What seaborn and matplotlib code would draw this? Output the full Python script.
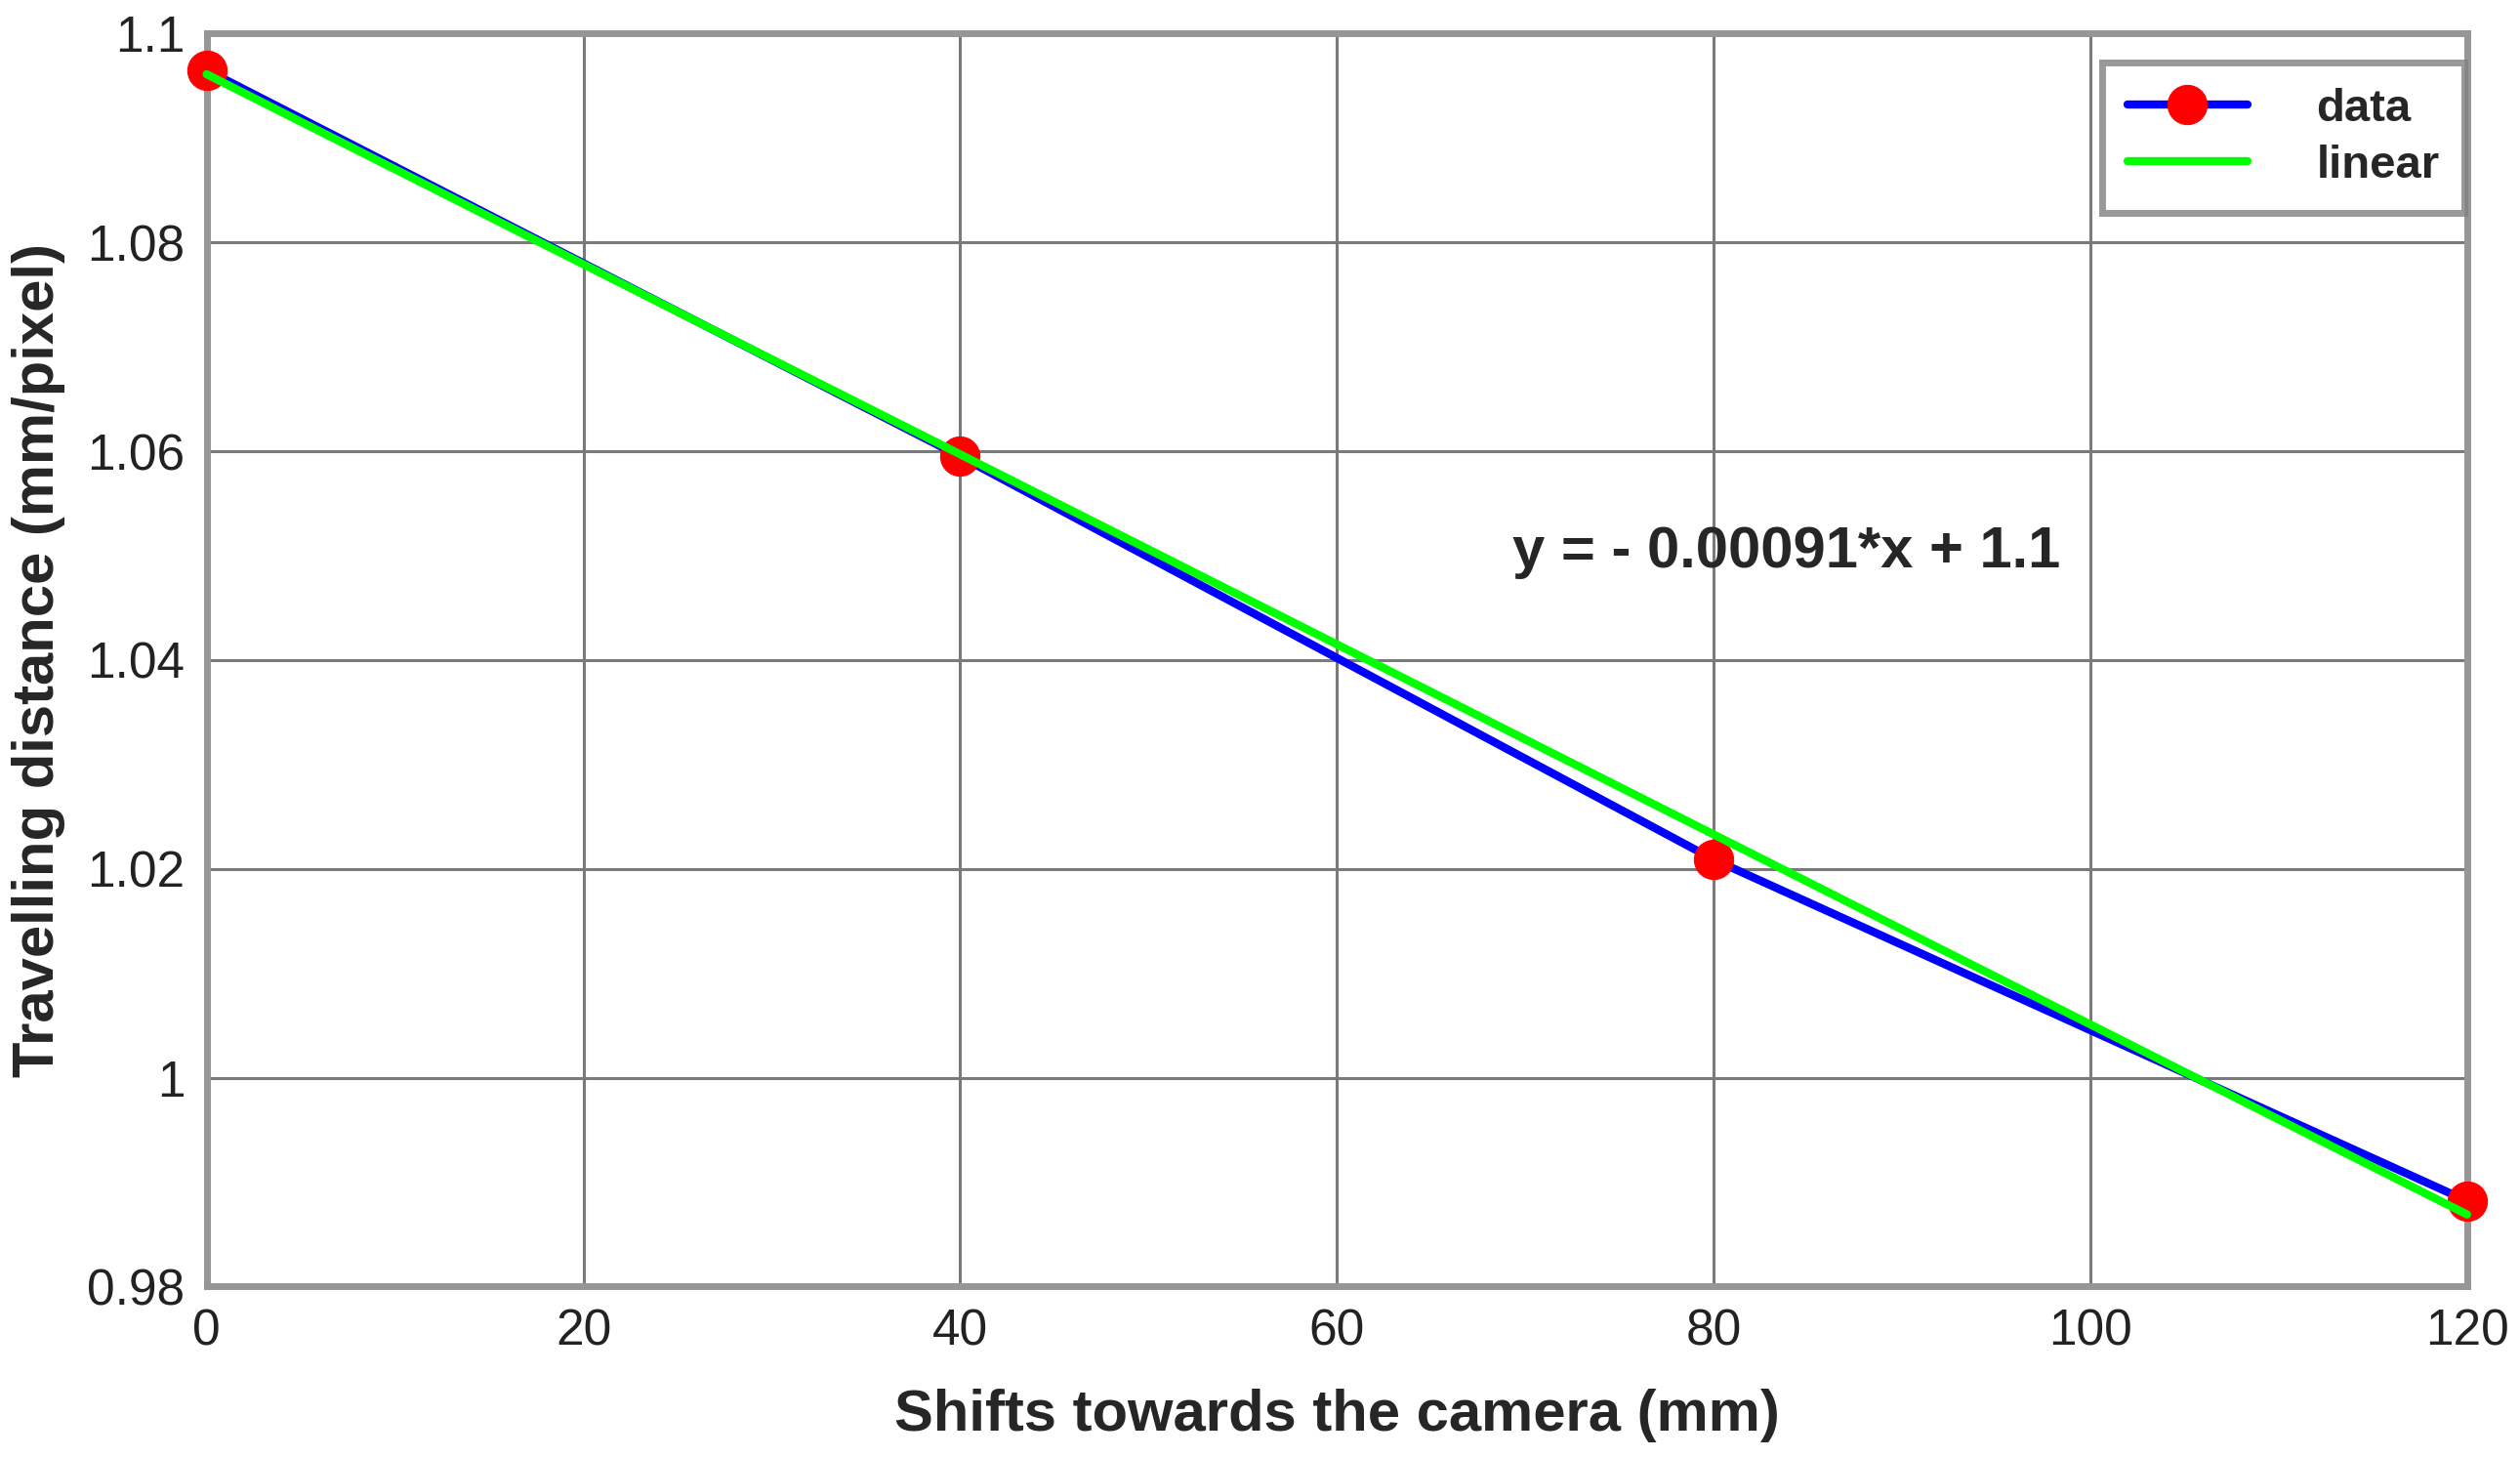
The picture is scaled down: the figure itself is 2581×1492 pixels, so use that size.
import numpy as np
import pandas as pd
import matplotlib
matplotlib.use("Agg")
import matplotlib.pyplot as plt
import seaborn as sns
from matplotlib.ticker import FuncFormatter

# values
shift_mm = [0, 40, 80, 120]
travel_dist = [1.0965, 1.0595, 1.0209, 0.9882]
fit_x = [0, 120]
fit_y = [1.0961, 0.9869]
fit_label = "y = - 0.00091*x + 1.1"

data_df = pd.DataFrame({"shift": shift_mm, "dist": travel_dist})
fit_df = pd.DataFrame({"shift": fit_x, "dist": fit_y})

sns.set_style("white")
plt.rcParams['font.family'] = ['Liberation Sans', 'DejaVu Sans']

fig = plt.figure(figsize=(25.81, 14.92), dpi=100)
ax = fig.add_axes([0.082, 0.117, 0.897, 0.860])

sns.lineplot(data=data_df, x="shift", y="dist", ax=ax, color="#0000ff", lw=6,
             marker="o", markersize=29, markerfacecolor="#ff0000",
             markeredgecolor="#ff0000", label="data", zorder=3, clip_on=False)
sns.lineplot(data=fit_df, x="shift", y="dist", ax=ax, color="#00ff00", lw=6,
             label="linear", zorder=4, clip_on=False)

ax.set_xlim(0, 120)
ax.set_ylim(0.98, 1.1)
ax.set_xticks(np.arange(0, 121, 20))
ax.set_yticks([0.98, 1.0, 1.02, 1.04, 1.06, 1.08, 1.1])
ax.yaxis.set_major_formatter(FuncFormatter(lambda v, p: f"{v:g}"))
ax.grid(True, color="#7a7a7a", lw=2.2)
ax.set_axisbelow(True)
ax.tick_params(direction="in", length=12, width=2.5, color="#555555",
               labelsize=37, pad=16, labelcolor="#222222")
for s in ax.spines.values():
    s.set_color("#969696")
    s.set_linewidth(5)

ax.set_xlabel("Shifts towards the camera (mm)", fontsize=43, fontweight="bold", labelpad=24)
ax.set_ylabel("Travelling distance (mm/pixel)", fontsize=43, fontweight="bold", labelpad=16)

ax.text(69.3, 1.0503, fit_label, fontsize=43, fontweight="bold",
        family=["Liberation Sans Narrow", "Liberation Sans"], va="center", ha="left")

leg = ax.legend(loc="upper right", fontsize=34, frameon=True, fancybox=False,
                handlelength=2.6, handletextpad=1.5, borderpad=0.55, labelspacing=0.3,
                borderaxespad=0, bbox_to_anchor=(0.999, 0.977))
leg.get_frame().set_edgecolor("#808080")
leg.get_frame().set_linewidth(5)
for t in leg.get_texts():
    t.set_fontweight("bold")

fig.savefig("out.png", dpi=100)
